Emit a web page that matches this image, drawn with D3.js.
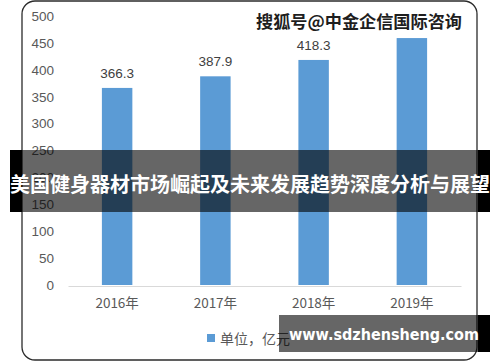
<!DOCTYPE html>
<html>
<head>
    <meta charset="utf-8">
    <title>美国健身器材市场</title>
    <script src="https://d3js.org/d3.v7.min.js"></script>
    <style>
        body{ margin:0; background:#fff; }
        svg{ display:block; }
    </style>
</head>
<body>
    <svg id="chart" width="500" height="362"></svg>
    <script>
        /*data*/
        var years = ["2016年", "2017年", "2018年", "2019年"];
        var values = [366.3, 387.9, 418.3, 459];
        /*2019 label sits under the watermark in the picture, so it is not shown*/
        var shownLabels = [true, true, true, false];
        var yTicks = [0, 50, 100, 150, 200, 250, 300, 350, 400, 450, 500];
        var legendText = "单位，亿元";
        var title = "美国健身器材市场崛起及未来发展趋势深度分析与展望";
        var mark = "搜狐号@中金企信国际咨询";
        var site = "www.sdzhensheng.com";

        var svg = d3.select("#chart");
        var numFont = "'Liberation Sans', Arial, sans-serif";
        var cjkFont = "'Noto Sans CJK SC', sans-serif";

        var x = d3.scaleBand().domain(years).range([68, 461])
            .paddingInner(0.69).paddingOuter(0.345);
        var y = d3.scaleLinear().domain([0, 500]).range([285, 16]);

        /*chart frame*/
        svg.append("rect")
            .attr("x", 22).attr("y", 1)
            .attr("width", 455).attr("height", 359)
            .attr("rx", 13).attr("ry", 13)
            .attr("fill", "#fff")
            .attr("stroke", "#2b2b2b")
            .attr("stroke-width", 1.3);

        /*y axis labels only*/
        var yAxis = d3.axisLeft(y).tickValues(yTicks).tickSize(0).tickPadding(0);
        var gy = svg.append("g").attr("transform", "translate(54,0)").call(yAxis);
        gy.select(".domain").remove();
        gy.selectAll("text")
            .attr("font-family", numFont)
            .attr("font-size", 13.5)
            .attr("fill", "#595959");

        /*bars*/
        svg.selectAll(".bar").data(values).enter().append("rect")
            .attr("class", "bar")
            .attr("x", function(d, i){ return x(years[i]); })
            .attr("y", function(d){ return y(d); })
            .attr("width", x.bandwidth())
            .attr("height", function(d){ return y(0) - y(d); })
            .attr("fill", "#5B9BD5");

        /*value labels*/
        var labelData = values.map(function(d, i){ return {v: d, i: i}; })
            .filter(function(d){ return shownLabels[d.i]; });
        svg.selectAll(".val").data(labelData).enter().append("text")
            .attr("class", "val")
            .attr("x", function(d){ return x(years[d.i]) + x.bandwidth() / 2; })
            .attr("y", function(d){ return y(d.v) - 10; })
            .attr("text-anchor", "middle")
            .attr("font-family", numFont)
            .attr("font-size", 13.5)
            .attr("fill", "#404040")
            .text(function(d){ return d.v.toFixed(1); });

        /*x axis*/
        var xAxis = d3.axisBottom(x).tickSize(0).tickPadding(12);
        var gx = svg.append("g").attr("transform", "translate(0," + (y(0) + 1) + ")").call(xAxis);
        gx.select(".domain").attr("stroke", "#d9d9d9").attr("stroke-width", 1.2);
        gx.selectAll("text")
            .attr("font-family", cjkFont)
            .attr("font-size", 13.5)
            .attr("fill", "#595959");

        /*legend*/
        svg.append("rect")
            .attr("x", 207).attr("y", 334)
            .attr("width", 8).attr("height", 8)
            .attr("fill", "#5B9BD5");
        svg.append("text")
            .attr("x", 220).attr("y", 338)
            .attr("dominant-baseline", "central")
            .attr("font-family", cjkFont)
            .attr("font-size", 14)
            .attr("fill", "#595959")
            .text(legendText);

        /*watermark top right*/
        svg.append("rect")
            .attr("x", 252).attr("y", 8)
            .attr("width", 214).attr("height", 25)
            .attr("fill", "#fff");
        svg.append("text")
            .attr("x", 256).attr("y", 20)
            .attr("dominant-baseline", "central")
            .attr("font-family", cjkFont)
            .attr("font-weight", "bold")
            .attr("font-size", 17)
            .attr("textLength", 206)
            .attr("lengthAdjust", "spacingAndGlyphs")
            .attr("fill", "#1e1e1e")
            .text(mark);

        /*title banner*/
        svg.append("rect").attr("x", 10).attr("y", 150).attr("width", 12).attr("height", 62).attr("fill", "#000");
        svg.append("rect").attr("x", 478).attr("y", 150).attr("width", 12).attr("height", 62).attr("fill", "#000");
        svg.append("rect").attr("x", 22).attr("y", 150).attr("width", 456).attr("height", 62)
            .attr("fill", "#000").attr("fill-opacity", 0.6);
        svg.append("text")
            .attr("x", 250).attr("y", 183)
            .attr("text-anchor", "middle")
            .attr("dominant-baseline", "central")
            .attr("font-family", cjkFont)
            .attr("font-weight", "bold")
            .attr("font-size", 20)
            .attr("textLength", 480)
            .attr("lengthAdjust", "spacingAndGlyphs")
            .attr("fill", "#fff")
            .text(title);

        /*site banner*/
        svg.append("rect").attr("x", 478).attr("y", 315).attr("width", 12).attr("height", 37).attr("fill", "#000");
        svg.append("rect").attr("x", 279).attr("y", 315).attr("width", 199).attr("height", 37)
            .attr("fill", "#000").attr("fill-opacity", 0.6);
        svg.append("text")
            .attr("x", 289).attr("y", 334)
            .attr("dominant-baseline", "central")
            .attr("font-family", "'DejaVu Sans', sans-serif")
            .attr("font-weight", "bold")
            .attr("font-size", 16)
            .attr("textLength", 190)
            .attr("lengthAdjust", "spacingAndGlyphs")
            .attr("fill", "#fff")
            .text(site);
    </script>
</body>
</html>
